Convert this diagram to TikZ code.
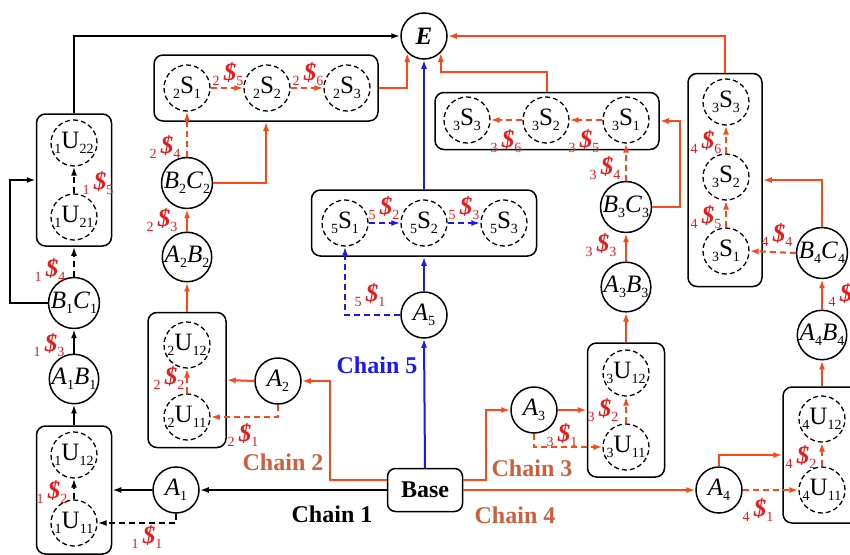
\documentclass[tikz,border=0pt]{standalone}
\usepackage{fontspec}
\setmainfont{Liberation Serif}
\usetikzlibrary{arrows.meta}
\definecolor{chainRed}{RGB}{255,70,20}
\definecolor{costRed}{RGB}{235,25,25}
\definecolor{chainText}{RGB}{205,95,60}
\definecolor{chainBlue}{RGB}{25,25,245}
\newcommand{\nodeFont}[0]{\fontsize{25}{27}\selectfont}
\newcommand{\subFont}[0]{\fontsize{14}{14}\selectfont}
\newcommand{\chainFont}[0]{\fontsize{24}{26}\selectfont\bfseries}
\newcommand{\lo}[1]{\raisebox{-0.45ex}{\subFont #1}}
\newcommand{\uNode}[3]{\lo{#1}#2\lo{#3}}
\newcommand{\abNode}[4]{\textit{#1}\lo{#2}\textit{#3}\lo{#4}}
\newcommand{\cost}[2]{\lo{#1}\,{\fontsize{25}{25}\selectfont\bfseries\itshape\$}\lo{#2}}

\begin{document}
\begin{tikzpicture}[x=1pt, y=-1pt, >={Latex[length=9pt,width=6pt]}]
  \tikzset{every node/.style={font=\nodeFont},
    cnode/.style={circle, draw, line width=1.5pt, minimum size=46pt, inner sep=0pt},
    dnode/.style={cnode, dash pattern=on 5pt off 3pt, line width=1.3pt},
    grp/.style={draw, rounded corners=9pt, line width=1.5pt},
    lab/.style={text=costRed, inner sep=0pt},
    chain/.style={font=\chainFont, inner sep=0pt},
    blk/.style={line width=2pt, ->},
    blkd/.style={blk, dash pattern=on 6pt off 4pt},
    org/.style={blk, chainRed},
    orgd/.style={org, dash pattern=on 6pt off 4pt},
    blu/.style={blk, chainBlue},
    blud/.style={blu, dash pattern=on 6pt off 4pt}}
  \useasboundingbox (0,0) rectangle (850,554);
  \node[cnode] (E) at (424,36) {\textbf{\textit{E}}};
  \node[draw, rounded corners=8pt, line width=1.5pt, minimum width=75pt, minimum height=43pt, font=\chainFont] (Base) at (425,490) {Base};

  \node[grp, minimum width=75pt, minimum height=132pt] (G-1-2) at (74,180) {};
  \node[dnode] (U-1-22) at (74,143) {\uNode{1}{U}{22}};
  \node[dnode] (U-1-21) at (74,217) {\uNode{1}{U}{21}};
  \node[cnode] (BC-1) at (74,303) {\abNode{B}{1}{C}{1}};
  \node[cnode] (AB-1) at (74,379) {\abNode{A}{1}{B}{1}};
  \node[grp, minimum width=75pt, minimum height=128pt] (G-1-1) at (74,490) {};
  \node[dnode] (U-1-12) at (74,455) {\uNode{1}{U}{12}};
  \node[dnode] (U-1-11) at (74,523) {\uNode{1}{U}{11}};
  \node[cnode] (A-1) at (176,490) {\textit{A}\lo{1}};

  \node[grp, minimum width=78pt, minimum height=135pt] (G-2-1) at (187,380) {};
  \node[dnode] (U-2-12) at (187,345) {\uNode{2}{U}{12}};
  \node[dnode] (U-2-11) at (187,417) {\uNode{2}{U}{11}};
  \node[cnode] (A-2) at (278,381) {\textit{A}\lo{2}};
  \node[cnode] (AB-2) at (187,257) {\abNode{A}{2}{B}{2}};
  \node[cnode] (BC-2) at (187,183) {\abNode{B}{2}{C}{2}};
  \node[grp, minimum width=224pt, minimum height=66pt] (G-2-2) at (266,88) {};
  \node[dnode] (S-2-1) at (187,88) {\uNode{2}{S}{1}};
  \node[dnode] (S-2-2) at (267,88) {\uNode{2}{S}{2}};
  \node[dnode] (S-2-3) at (347,88) {\uNode{2}{S}{3}};

  \node[cnode] (A-5) at (424,315) {\textit{A}\lo{5}};
  \node[grp, minimum width=225pt, minimum height=66pt] (G-5-2) at (424,223) {};
  \node[dnode] (S-5-1) at (345,223) {\uNode{5}{S}{1}};
  \node[dnode] (S-5-2) at (424,223) {\uNode{5}{S}{2}};
  \node[dnode] (S-5-3) at (504,223) {\uNode{5}{S}{3}};

  \node[cnode] (A-3) at (534,410) {\textit{A}\lo{3}};
  \node[grp, minimum width=77pt, minimum height=134pt] (G-3-1) at (626,410) {};
  \node[dnode] (U-3-12) at (626,373) {\uNode{3}{U}{12}};
  \node[dnode] (U-3-11) at (626,447) {\uNode{3}{U}{11}};
  \node[cnode] (AB-3) at (626,287) {\abNode{A}{3}{B}{3}};
  \node[cnode] (BC-3) at (626,207) {\abNode{B}{3}{C}{3}};
  \node[grp, minimum width=224pt, minimum height=57pt] (G-3-2) at (547,121) {};
  \node[dnode] (S-3-1) at (626,120) {\uNode{3}{S}{1}};
  \node[dnode] (S-3-2) at (546,120) {\uNode{3}{S}{2}};
  \node[dnode] (S-3-3) at (467,120) {\uNode{3}{S}{3}};

  \node[cnode] (A-4) at (719,490) {\textit{A}\lo{4}};
  \node[grp, minimum width=78pt, minimum height=136pt] (G-4-1) at (822,455) {};
  \node[dnode] (U-4-12) at (822,419) {\uNode{4}{U}{12}};
  \node[dnode] (U-4-11) at (822,490) {\uNode{4}{U}{11}};
  \node[cnode] (AB-4) at (822,335) {\abNode{A}{4}{B}{4}};
  \node[cnode] (BC-4) at (822,253) {\abNode{B}{4}{C}{4}};
  \node[grp, minimum width=74pt, minimum height=213pt] (G-4-2) at (725,180) {};
  \node[dnode] (S-4-3) at (726,102) {\uNode{3}{S}{3}};
  \node[dnode] (S-4-2) at (726,177) {\uNode{3}{S}{2}};
  \node[dnode] (S-4-1) at (726,251) {\uNode{3}{S}{1}};

  \node[lab] (L-1-5) at (98,183) {\cost{1}{5}};
  \node[lab] (L-1-4) at (50,270) {\cost{1}{4}};
  \node[lab] (L-1-3) at (49,345) {\cost{1}{3}};
  \node[lab] (L-1-2) at (52,492) {\cost{1}{2}};
  \node[lab] (L-1-1) at (147,537) {\cost{1}{1}};
  \node[lab] (L-2-1) at (243,435) {\cost{2}{1}};
  \node[lab] (L-2-2) at (169,378) {\cost{2}{2}};
  \node[lab] (L-2-3) at (162,220) {\cost{2}{3}};
  \node[lab] (L-2-4) at (165,147) {\cost{2}{4}};
  \node[lab] (L-2-5) at (228,74) {\cost{2}{5}};
  \node[lab] (L-2-6) at (308,74) {\cost{2}{6}};
  \node[lab] (L-5-1) at (370,295) {\cost{5}{1}};
  \node[lab] (L-5-2) at (384,208) {\cost{5}{2}};
  \node[lab] (L-5-3) at (464,208) {\cost{5}{3}};
  \node[lab] (L-3-1) at (562,435) {\cost{3}{1}};
  \node[lab] (L-3-2) at (603,410) {\cost{3}{2}};
  \node[lab] (L-3-3) at (601,245) {\cost{3}{3}};
  \node[lab] (L-3-4) at (605,168) {\cost{3}{4}};
  \node[lab] (L-3-5) at (584,141) {\cost{3}{5}};
  \node[lab] (L-3-6) at (506,141) {\cost{3}{6}};
  \node[lab] (L-4-1) at (758,510) {\cost{4}{1}};
  \node[lab] (L-4-2) at (801,457) {\cost{4}{2}};
  \node[lab] (L-4-3) at (844,295) {\cost{4}{3}};
  \node[lab] (L-4-4) at (777,235) {\cost{4}{4}};
  \node[lab] (L-4-5) at (706,217) {\cost{4}{5}};
  \node[lab] (L-4-6) at (706,142) {\cost{4}{6}};

  \node[chain] (C-1) at (332,514) {Chain 1};
  \node[chain, text=chainText] (C-2) at (283,462) {Chain 2};
  \node[chain, text=chainText] (C-3) at (532,468) {Chain 3};
  \node[chain, text=chainText] (C-4) at (515,515) {Chain 4};
  \node[chain, text=chainBlue] (C-5) at (377,365) {Chain 5};

  \draw[blk] (Base.west) -- (A-1.east);
  \draw[blk] (A-1.west) -- (G-1-1.east);
  \draw[blkd] (A-1.south) |- (U-1-11.east);
  \draw[blkd] (U-1-11.north) -- (U-1-12.south);
  \draw[blk] (G-1-1.north) -- (AB-1.south);
  \draw[blk] (AB-1.north) -- (BC-1.south);
  \draw[blkd] (BC-1.north) -- (G-1-2.south);
  \draw[blk] (BC-1.west) -- ++(-38,0) |- (G-1-2.west);
  \draw[blkd] (U-1-21.north) -- (U-1-22.south);
  \draw[blk] (G-1-2.north) |- (E.west);

  \draw[org] ([yshift=10pt]Base.west) -- ++(-57,0) |- (A-2.east);
  \draw[org] (A-2.west) -- (G-2-1.east);
  \draw[orgd] (A-2.south) |- (U-2-11.east);
  \draw[orgd] (U-2-11.north) -- (U-2-12.south);
  \draw[org] (G-2-1.north) -- (AB-2.south);
  \draw[org] (AB-2.north) -- (BC-2.south);
  \draw[orgd] (BC-2.north) -- (S-2-1.south);
  \draw[org] (BC-2.east) -| (G-2-2.south);
  \draw[orgd] (S-2-1.east) -- (S-2-2.west);
  \draw[orgd] (S-2-2.east) -- (S-2-3.west);
  \draw[org] (G-2-2.east) -| (E.south west);

  \draw[blu] (Base.north) -- (A-5.south);
  \draw[blu] (A-5.north) -- (G-5-2.south);
  \draw[blud] (A-5.west) -| (S-5-1.south);
  \draw[blud] (S-5-1.east) -- (S-5-2.west);
  \draw[blud] (S-5-2.east) -- (S-5-3.west);
  \draw[blu] (G-5-2.north) -- (E.south);

  \draw[org] ([yshift=10pt]Base.east) -- ++(23,0) |- (A-3.west);
  \draw[org] (A-3.east) -- (G-3-1.west);
  \draw[orgd] (A-3.south) |- (U-3-11.west);
  \draw[orgd] (U-3-11.north) -- (U-3-12.south);
  \draw[org] (G-3-1.north) -- (AB-3.south);
  \draw[org] (AB-3.north) -- (BC-3.south);
  \draw[orgd] (BC-3.north) -- (S-3-1.south);
  \draw[org] (BC-3.east) -- ++(28,0) |- (G-3-2.east);
  \draw[orgd] (S-3-1.west) -- (S-3-2.east);
  \draw[orgd] (S-3-2.west) -- (S-3-3.east);
  \draw[org] (G-3-2.north) -- ++(0,-20) -| (E.south east);

  \draw[org] (Base.east) -- (A-4.west);
  \draw[org] (A-4.north) |- (G-4-1.west);
  \draw[orgd] (A-4.east) -- (U-4-11.west);
  \draw[orgd] (U-4-11.north) -- (U-4-12.south);
  \draw[org] (G-4-1.north) -- (AB-4.south);
  \draw[org] (AB-4.north) -- (BC-4.south);
  \draw[orgd] (BC-4.west) -- (S-4-1.east);
  \draw[org] (BC-4.north) |- (G-4-2.east);
  \draw[orgd] (S-4-1.north) -- (S-4-2.south);
  \draw[orgd] (S-4-2.north) -- (S-4-3.south);
  \draw[org] (G-4-2.north) |- (E.east);
\end{tikzpicture}
\end{document}
